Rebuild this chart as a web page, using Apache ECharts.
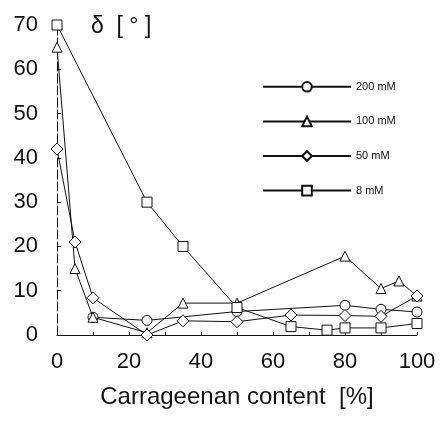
<!DOCTYPE html>
<html><head><meta charset="utf-8">
<script src="https://cdn.jsdelivr.net/npm/echarts@6/dist/echarts.min.js"></script>
<style>html,body{margin:0;padding:0;background:#fff}#c{width:440px;height:424px}</style>
</head><body><div id="c"></div>
<script>
var seriesNames = ['200 mM', '100 mM', '50 mM', '8 mM'];
var x200 = [10, 25, 50, 80, 90, 100];
var y200 = [4, 3.3, 5.3, 6.7, 5.8, 5.2];
var x100 = [0, 5, 10, 25, 35, 50, 80, 90, 95, 100];
var y100 = [65, 15, 4, 0.5, 7.2, 7.2, 17.8, 10.5, 12.2, 8.8];
var x50 = [0, 5, 10, 25, 35, 50, 65, 80, 90, 100];
var y50 = [42, 21, 8.4, 0, 3.2, 3, 4.5, 4.4, 4.2, 8.8];
var x8 = [0, 25, 35, 50, 65, 75, 80, 90, 100];
var y8 = [70, 30, 20, 6.2, 1.9, 1.1, 1.6, 1.6, 2.6];
var symbols = ['circle', 'triangle', 'diamond', 'rect'];
var xs = [x200, x100, x50, x8];
var ys = [y200, y100, y50, y8];
var xTicks = [0, 20, 40, 60, 80, 100];
var yTicks = [0, 10, 20, 30, 40, 50, 60, 70];

var FONT = '"Liberation Sans", Arial, Helvetica, sans-serif';
var chart = echarts.init(document.getElementById('c'), null, {renderer: 'canvas'});
var series = seriesNames.map(function (n, i) {
  return {
    name: n, type: 'line', symbol: symbols[i],
    symbolSize: symbols[i] === 'diamond' ? 12 : 10,
    showAllSymbol: true,
    data: xs[i].map(function (v, k) { return [v, ys[i][k]]; }),
    lineStyle: {color: '#111', width: 1},
    itemStyle: {color: '#fff', borderColor: '#111', borderWidth: 1},
    emphasis: {disabled: true},
    animation: false,
    z: 3 + i
  };
});
chart.setOption({
  backgroundColor: '#fff',
  animation: false,
  title: {text: 'δ  [ ° ]', left: 86, top: 10, textStyle: {fontFamily: FONT, fontSize: 23, fontWeight: 'normal', color: '#111'}},
  legend: {
    orient: 'vertical', left: 257, top: 76, itemWidth: 88, itemHeight: 12, itemGap: 23,
    data: seriesNames,
    textStyle: {fontFamily: FONT, fontSize: 11, color: '#111'}
  },
  grid: {left: 57, right: 23, top: 25, bottom: 89, containLabel: false},
  xAxis: {
    type: 'value', min: xTicks[0], max: xTicks[xTicks.length - 1], interval: 20,
    name: 'Carrageenan content  [%]', nameLocation: 'middle', nameGap: 50,
    nameTextStyle: {fontFamily: FONT, fontSize: 24, color: '#111'},
    axisLine: {lineStyle: {color: '#111', width: 1}},
    axisTick: {show: true, inside: true, length: 3, lineStyle: {color: '#111'}},
    minorTick: {show: true, splitNumber: 2, length: 3, lineStyle: {color: '#111'}},
    axisLabel: {fontFamily: FONT, fontSize: 22, color: '#111', margin: 16},
    splitLine: {show: false}
  },
  yAxis: {
    type: 'value', min: yTicks[0], max: yTicks[yTicks.length - 1], interval: 10,
    axisLine: {show: true, lineStyle: {color: '#111', width: 1, type: [9, 3]}},
    axisTick: {show: true, inside: true, length: 4, lineStyle: {color: '#111'}},
    axisLabel: {fontFamily: FONT, fontSize: 22, color: '#111', margin: 19},
    splitLine: {show: false}
  },
  series: series
});
</script></body></html>
